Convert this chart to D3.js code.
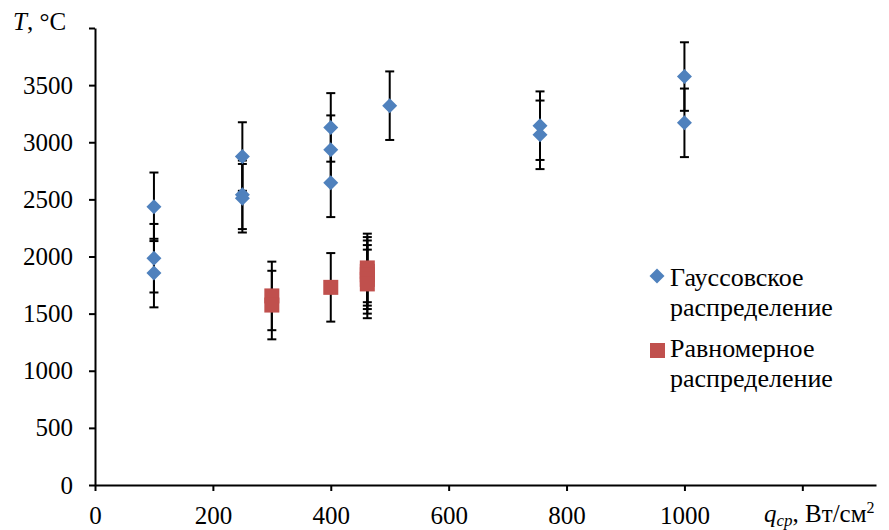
<!DOCTYPE html>
<html>
<head>
<meta charset="utf-8">
<script src="https://cdn.jsdelivr.net/npm/d3@7"></script>
<style>
  body { margin: 0; background: #fff; }
</style>
</head>
<body>
<main></main>
<script>
  // Gaussian distribution series
  var gaussQ = [100, 100, 100, 250, 250, 250, 400, 400, 400, 500, 755, 755, 1000, 1000];
  var gaussT = [2435, 1985, 1855, 2875, 2540, 2510, 3130, 2935, 2645, 3320, 3145, 3065, 3575, 3170];
  // uniform distribution series
  var uniformQ = [300, 300, 400, 462, 462, 462, 462, 462];
  var uniformT = [1655, 1575, 1730, 1900, 1870, 1840, 1800, 1760];
  var errT = 300;
  var xTicks = [0, 200, 400, 600, 800, 1000, 1200];
  var yTicks = [0, 500, 1000, 1500, 2000, 2500, 3000, 3500, 4000];
  var legendNames = [["Гауссовское", "распределение"], ["Равномерное", "распределение"]];

  var font = "Liberation Serif";
  var fs = "25px";
  var w = 889, h = 530;
  var svg = d3.select("main")
              .append("svg")
              .attr("width", w)
              .attr("height", h)
              .attr("font-family", font);

  var x = d3.scaleLinear().domain([0, 1325]).range([95, 876]);
  var y = d3.scaleLinear().domain([0, 4000]).range([485, 28]);

  var gauss = gaussQ.map(function(q, i) { return {q: q, t: gaussT[i]}; });
  var uniform = uniformQ.map(function(q, i) { return {q: q, t: uniformT[i]}; });

  // axes
  var yAxis = svg.append("g")
                 .attr("transform", "translate(" + x(0) + ",0)")
                 .call(d3.axisLeft(y).tickValues(yTicks).tickSize(6).tickSizeOuter(0).tickPadding(16)
                   .tickFormat(function(d) { return d < 4000 ? d : ""; }));
  var xAxis = svg.append("g")
                 .attr("transform", "translate(0," + y(0) + ")")
                 .call(d3.axisBottom(x).tickValues(xTicks).tickSize(6).tickSizeOuter(0).tickPadding(15)
                   .tickFormat(function(d) { return d <= 1000 ? d : ""; }));
  [xAxis, yAxis].forEach(function(a) {
    a.attr("font-family", font).attr("font-size", fs);
    a.select(".domain").attr("stroke", "#000").attr("stroke-width", 2);
    a.selectAll(".tick line").attr("stroke", "#000").attr("stroke-width", 2);
    a.selectAll("text").attr("fill", "#000").attr("font-family", font);
  });

  // error bars
  var bars = svg.append("g");
  gauss.concat(uniform).forEach(function(d) {
    var cx = x(d.q);
    bars.append("line")
        .attr("x1", cx).attr("x2", cx)
        .attr("y1", y(d.t + errT)).attr("y2", y(d.t - errT))
        .attr("stroke", "#000").attr("stroke-width", 2);
    [d.t + errT, d.t - errT].forEach(function(v) {
      bars.append("line")
          .attr("x1", cx - 4.5).attr("x2", cx + 4.5)
          .attr("y1", y(v)).attr("y2", y(v))
          .attr("stroke", "#000").attr("stroke-width", 2);
    });
  });

  var diamond = "M0,-7.5L7.5,0L0,7.5L-7.5,0Z";
  svg.append("g").selectAll("path")
     .data(gauss)
     .enter()
     .append("path")
     .attr("d", diamond)
     .attr("transform", function(d) { return "translate(" + x(d.q) + "," + y(d.t) + ")"; })
     .attr("fill", "#4F81BD");

  svg.append("g").selectAll("rect")
     .data(uniform)
     .enter()
     .append("rect")
     .attr("x", function(d) { return x(d.q) - 7.5; })
     .attr("y", function(d) { return y(d.t) - 7.5; })
     .attr("width", 15)
     .attr("height", 15)
     .attr("fill", "#C0504D");

  // axis titles
  var yt = svg.append("text").attr("x", 13).attr("y", 30).attr("font-size", fs).attr("font-family", font);
  yt.append("tspan").attr("font-style", "italic").text("T");
  yt.append("tspan").text(", °C");

  var xt = svg.append("text").attr("x", 764).attr("y", 522).attr("font-size", fs).attr("font-family", font);
  xt.append("tspan").attr("font-style", "italic").text("q");
  xt.append("tspan").attr("font-style", "italic").attr("font-size", "17px").attr("dy", 4).text("ср");
  xt.append("tspan").attr("dy", -4).text(", Вт/см");
  xt.append("tspan").attr("font-size", "16px").attr("dy", -9).text("2");

  // legend
  var legend = svg.append("g");
  legend.append("path")
        .attr("d", diamond)
        .attr("transform", "translate(657,276)")
        .attr("fill", "#4F81BD");
  legend.append("rect")
        .attr("x", 650).attr("y", 343)
        .attr("width", 15).attr("height", 15)
        .attr("fill", "#C0504D");
  var baseY = [286, 357];
  legendNames.forEach(function(lines, i) {
    lines.forEach(function(s, j) {
      legend.append("text")
            .attr("x", 670)
            .attr("y", baseY[i] + j * 30)
            .attr("font-size", "26px")
            .attr("font-family", font)
            .text(s);
    });
  });
</script>
</body>
</html>
